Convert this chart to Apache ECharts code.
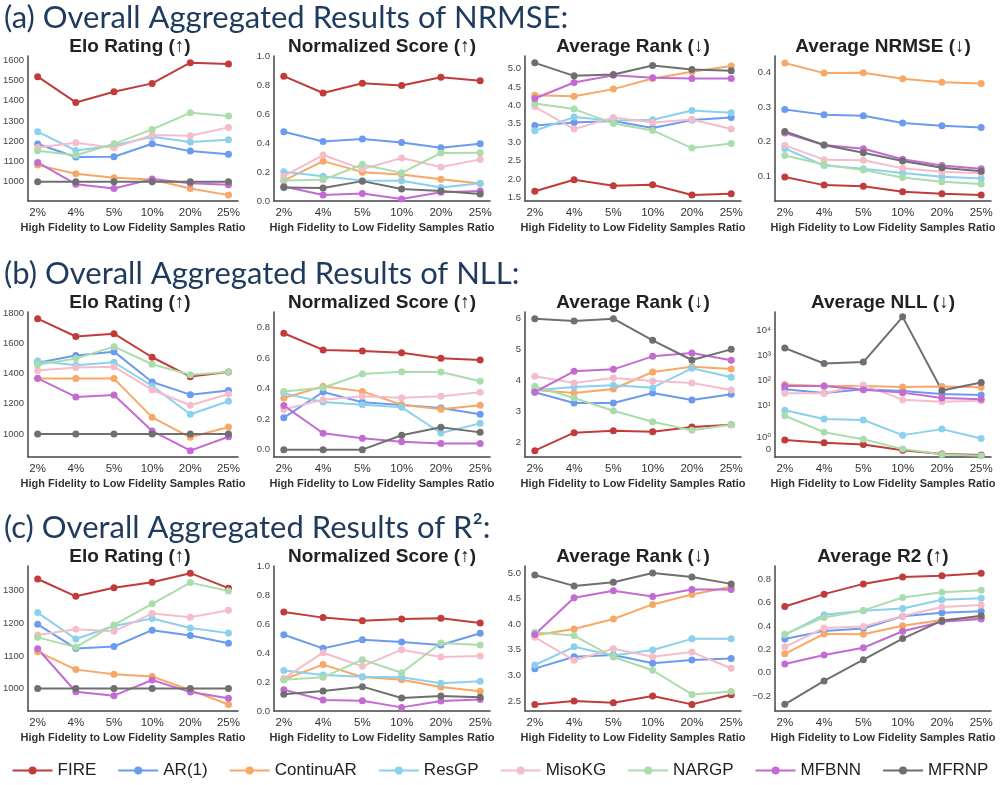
<!DOCTYPE html>
<html><head><meta charset="utf-8">
<script src="https://cdn.jsdelivr.net/npm/echarts@6/dist/echarts.min.js"></script>
<style>html,body{margin:0;padding:0;background:#fff}#c{width:1000px;height:785px}</style>
</head><body><div id="c"></div><script>
const methods = ['FIRE','AR(1)','ContinuAR','ResGP','MisoKG','NARGP','MFBNN','MFRNP'];
const colors = ['#c13b3b','#6b9bee','#f7a866','#8bd0ec','#f5bdcb','#abdcab','#c46bd3','#6f6f6f'];
const ratios = ['2%','4%','5%','10%','20%','25%'];

const sectionTitles = ['(a) Overall Aggregated Results of NRMSE:','(b) Overall Aggregated Results of NLL:','(c) Overall Aggregated Results of R²:'];
const panelTitles = ['Elo Rating (↑)','Normalized Score (↑)','Average Rank (↓)','Average NRMSE (↓)',
  'Elo Rating (↑)','Normalized Score (↑)','Average Rank (↓)','Average NLL (↓)',
  'Elo Rating (↑)','Normalized Score (↑)','Average Rank (↓)','Average R2 (↑)'];
const xName = 'High Fidelity to Low Fidelity Samples Ratio';

// rows: FIRE, AR(1), ContinuAR, ResGP, MisoKG, NARGP, MFBNN, MFRNP
const nrmseElo = [
 [1518,1391,1444,1485,1587,1580],
 [1186,1122,1123,1187,1151,1136],
 [1082,1039,1020,1011,967,934],
 [1247,1154,1179,1222,1196,1207],
 [1169,1192,1168,1230,1227,1268],
 [1153,1131,1187,1258,1340,1324],
 [1095,988,967,1013,992,985],
 [1000,1000,1000,1000,1000,1000]];
const nrmseNorm = [
 [0.861,0.745,0.812,0.796,0.854,0.829],
 [0.477,0.410,0.428,0.403,0.368,0.394],
 [0.141,0.275,0.199,0.183,0.150,0.120],
 [0.201,0.171,0.141,0.139,0.093,0.123],
 [0.171,0.317,0.220,0.296,0.234,0.287],
 [0.141,0.146,0.252,0.194,0.331,0.333],
 [0.100,0.042,0.051,0.014,0.060,0.069],
 [0.093,0.090,0.137,0.083,0.069,0.049]];
const nrmseRank = [
 [1.663,1.979,1.816,1.844,1.563,1.600],
 [3.453,3.535,3.571,3.381,3.598,3.670],
 [4.276,4.249,4.440,4.729,4.910,5.070],
 [3.309,3.680,3.580,3.607,3.860,3.797],
 [3.960,3.354,3.670,3.535,3.616,3.354],
 [4.050,3.897,3.508,3.318,2.838,2.965],
 [4.186,4.620,4.819,4.747,4.729,4.729],
 [5.154,4.800,4.837,5.080,4.973,4.937]];
const nrmseAvg = [
 [0.099,0.076,0.073,0.057,0.051,0.048],
 [0.293,0.278,0.275,0.254,0.246,0.241],
 [0.426,0.397,0.398,0.381,0.371,0.367],
 [0.181,0.132,0.123,0.111,0.100,0.095],
 [0.190,0.149,0.147,0.124,0.114,0.110],
 [0.161,0.135,0.119,0.098,0.086,0.079],
 [0.225,0.191,0.180,0.150,0.132,0.123],
 [0.230,0.191,0.169,0.145,0.126,0.116]];
const nllElo = [
 [1762,1644,1663,1507,1379,1410],
 [1470,1518,1544,1344,1260,1287],
 [1366,1366,1366,1110,978,1046],
 [1483,1454,1474,1317,1130,1216],
 [1419,1439,1445,1291,1190,1264],
 [1458,1498,1577,1461,1392,1410],
 [1368,1245,1258,1020,890,982],
 [1000,1000,1000,1000,1000,1000]];
const nllNorm = [
 [0.761,0.652,0.645,0.634,0.597,0.586],
 [0.209,0.377,0.310,0.292,0.272,0.231],
 [0.338,0.414,0.381,0.294,0.264,0.290],
 [0.368,0.312,0.294,0.277,0.109,0.172],
 [0.262,0.327,0.349,0.340,0.349,0.375],
 [0.381,0.405,0.495,0.510,0.508,0.447],
 [0.288,0.107,0.074,0.052,0.041,0.041],
 [0.000,0.000,0.000,0.094,0.146,0.113]];
const nllRank = [
 [1.719,2.303,2.368,2.335,2.486,2.562],
 [3.611,3.265,3.265,3.589,3.362,3.546],
 [3.686,3.589,3.719,4.270,4.443,4.368],
 [3.676,3.784,3.838,3.762,4.389,4.097],
 [4.130,3.914,4.076,3.978,3.914,3.686],
 [3.805,3.427,3.016,2.659,2.378,2.562],
 [3.622,4.292,4.357,4.778,4.886,4.649],
 [6.000,5.924,6.000,5.297,4.660,5.005]];
const nllAvg = [
 [0.78,0.549,0.404,-0.058,-0.375,-0.462],
 [44.6,31.4,44.6,38.0,28.5,25.9],
 [67.7,59.6,59.6,54.2,57.4,52.5],
 [6.5,2.9,2.65,1.18,1.675,0.895],
 [30.4,30.4,65.5,17.0,14.1,15.5],
 [3.9,1.415,0.837,0.029,-0.404,-0.52],
 [59.6,59.6,41.8,32.4,20.0,17.6],
 [1911,465,529,33300,39.2,82]];
const r2Elo = [
 [1336,1283,1309,1326,1354,1308],
 [1197,1123,1129,1179,1163,1139],
 [1113,1058,1044,1037,995,951],
 [1233,1152,1192,1215,1186,1170],
 [1164,1182,1176,1230,1219,1240],
 [1157,1127,1195,1260,1325,1299],
 [1122,990,978,1026,989,970],
 [1000,1000,1000,1000,1000,1000]];
const r2Norm = [
 [0.683,0.644,0.623,0.634,0.639,0.607],
 [0.526,0.432,0.492,0.476,0.455,0.536],
 [0.218,0.320,0.234,0.216,0.166,0.136],
 [0.280,0.248,0.237,0.232,0.191,0.205],
 [0.225,0.402,0.308,0.423,0.372,0.379],
 [0.216,0.232,0.354,0.264,0.469,0.455],
 [0.147,0.076,0.071,0.025,0.069,0.080],
 [0.115,0.138,0.168,0.090,0.103,0.094]];
const r2Rank = [
 [2.435,2.500,2.468,2.597,2.435,2.623],
 [3.133,3.366,3.398,3.236,3.301,3.333],
 [3.786,3.908,4.102,4.386,4.580,4.729],
 [3.204,3.559,3.391,3.495,3.714,3.714],
 [3.747,3.295,3.521,3.366,3.456,3.140],
 [3.844,3.779,3.359,3.101,2.629,2.687],
 [3.798,4.516,4.651,4.541,4.677,4.677],
 [4.961,4.748,4.819,5.000,4.922,4.787]];
const r2Avg = [
 [0.569,0.675,0.763,0.823,0.834,0.854],
 [0.290,0.359,0.379,0.484,0.515,0.527],
 [0.162,0.333,0.330,0.404,0.453,0.473],
 [0.325,0.498,0.532,0.552,0.626,0.640],
 [0.222,0.384,0.396,0.487,0.564,0.581],
 [0.330,0.475,0.535,0.646,0.692,0.709],
 [0.074,0.151,0.214,0.356,0.438,0.461],
 [-0.273,-0.071,0.111,0.293,0.447,0.490]];

// tick labels
const ticksEloA = [1000,1100,1200,1300,1400,1500,1600];
const ticksNormA = [0,0.2,0.4,0.6,0.8,1.0];
const ticksRankA = [1.5,2.0,2.5,3.0,3.5,4.0,4.5,5.0];
const ticksNrmse = [0.1,0.2,0.3,0.4];
const ticksEloB = [1000,1200,1400,1600,1800];
const ticksNormB = [0,0.2,0.4,0.6,0.8];
const ticksRankB = [2,3,4,5,6];
const ticksNll = [0,1,10,100,1000,10000];
const tickLabelsNll = ['0','10⁰','10¹','10²','10³','10⁴'];
const ticksEloC = [1000,1100,1200,1300];
const ticksNormC = [0,0.2,0.4,0.6,0.8,1.0];
const ticksRankC = [2.5,3.0,3.5,4.0,4.5,5.0];
const ticksR2 = [-0.2,0.0,0.2,0.4,0.6,0.8];

// symlog-like transform for the NLL panel
const SL_T = 2.3, SL_L = 1.111;
function symlog(v){ const a=Math.abs(v), s=v<0?-1:1; return a<=SL_T ? s*a/SL_T*SL_L : s*(SL_L+Math.log10(a/SL_T)); }

const panelData = [nrmseElo,nrmseNorm,nrmseRank,nrmseAvg,nllElo,nllNorm,nllRank,nllAvg,r2Elo,r2Norm,r2Rank,r2Avg];
const panelTicks = [ticksEloA,ticksNormA,ticksRankA,ticksNrmse,ticksEloB,ticksNormB,ticksRankB,ticksNll,ticksEloC,ticksNormC,ticksRankC,ticksR2];
const panelDec = [0,1,1,1,0,1,0,-1,0,1,1,1];
const panelRange = [[905,1620],[0,1],[1.40,5.34],[0.0305,0.446],[848,1806],[-0.048,0.9],[1.514,6.216],[symlog(-0.62),symlog(52000)],[931,1376],[0,1],[2.306,5.136],[-0.33,0.917]];

const colLeft = [22,274,525,775], rowTop = [56,312,566], GW = 216, GH = 145;
const FONT = '"Liberation Sans", Arial, "DejaVu Sans", sans-serif';

const grid=[], xAxis=[], yAxis=[], series=[], title=[];
sectionTitles.forEach((t,r)=>title.push({text:t,left:4,top:rowTop[r]-38,textAlign:'left',textVerticalAlign:'middle',padding:0,
  textStyle:{fontFamily:'Lato, "Open Sans", sans-serif',fontSize:31,fontWeight:'normal',color:'#1e3a5c'}}));
panelData.forEach((pd,p)=>{
  const r=Math.floor(p/4), c=p%4;
  const isLog = p===7;
  grid.push({left:colLeft[c],top:rowTop[r],width:GW,height:GH,containLabel:false});
  title.push({text:panelTitles[p],left:colLeft[c]+GW/2,top:rowTop[r]-9,textAlign:'center',textVerticalAlign:'middle',padding:0,
    textStyle:{fontFamily:FONT,fontSize:19,fontWeight:'bold',color:'#222'}});
  xAxis.push({type:'value',gridIndex:p,min:-0.25,max:5.25,
    name:xName,nameLocation:'middle',nameGap:21,
    nameTextStyle:{fontFamily:FONT,fontSize:11,fontWeight:'bold',color:'#333'},
    axisLine:{show:true,onZero:false,lineStyle:{color:'#444',width:1.5}},
    axisTick:{show:false},splitLine:{show:false},
    axisLabel:{customValues:[0,1,2,3,4,5],formatter:v=>ratios[Math.round(v)],fontFamily:FONT,fontSize:11.5,color:'#333',margin:6}});
  const ticks = panelTicks[p];
  const dec = panelDec[p];
  yAxis.push({type:'value',gridIndex:p,min:panelRange[p][0],max:panelRange[p][1],
    axisLine:{show:true,onZero:false,lineStyle:{color:'#444',width:1.5}},
    axisTick:{show:false},splitLine:{show:false},
    axisLabel:{customValues: isLog ? ticks.map(symlog) : ticks,
      formatter: isLog ? (v=>{let bi=0,bd=1e9;ticks.forEach((t,i)=>{const d=Math.abs(symlog(t)-v);if(d<bd){bd=d;bi=i;}});return tickLabelsNll[bi];})
                       : (v=>(v< -1e-9?'−':'')+Math.abs(v).toFixed(dec)),
      fontFamily:FONT,fontSize:9.5,color:'#444',margin:4}});
  pd.forEach((vals,m)=>{
    series.push({type:'line',name:methods[m],xAxisIndex:p,yAxisIndex:p,
      data:vals.map((v,i)=>[i, isLog?symlog(v):v]),
      color:colors[m],symbol:'circle',symbolSize:7,showSymbol:true,
      lineStyle:{width:2,color:colors[m]},itemStyle:{color:colors[m]},
      emphasis:{disabled:true},silent:true,animation:false});
  });
});

const chart = echarts.init(document.getElementById('c'),null,{renderer:'canvas'});
chart.setOption({
  backgroundColor:'#fff',animation:false,
  title, grid, xAxis, yAxis, series,
  legend:{data:methods,left:'center',top:757,itemWidth:40,itemHeight:10,itemGap:21,
    textStyle:{fontFamily:FONT,fontSize:17,color:'#222'}}
});
</script></body></html>
